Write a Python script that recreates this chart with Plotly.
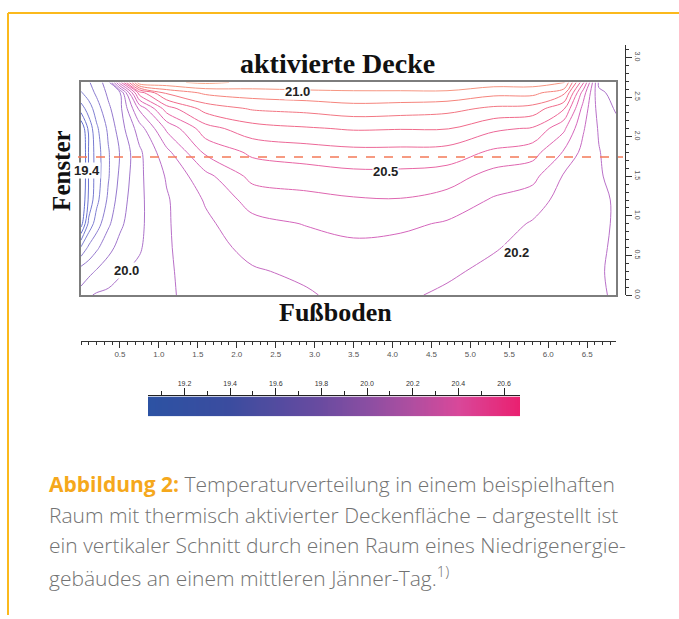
import numpy as np
import plotly.graph_objects as go

# ---------------- data ----------------
# grid positions in the room section (m)
x_pos = [0, 0.1, 0.2, 0.35, 0.5, 0.75, 1.1, 1.6, 2.2, 2.9, 3.5, 4.1, 4.7, 5.3, 5.8, 6.2, 6.45, 6.65, 6.87]
y_pos = [0, 0.3, 0.6, 0.9, 1.2, 1.5, 1.8, 2.1, 2.35, 2.55, 2.68]

# temperature (°C) per grid column, from floor (y=0) up to ceiling (y=2.68)
temp_x000 = [19.93, 19.85, 19.61, 19.25, 19.18, 19.15, 19.15, 19.20, 19.45, 19.59, 19.66]
temp_x010 = [19.99, 19.87, 19.72, 19.53, 19.42, 19.41, 19.41, 19.43, 19.55, 19.65, 19.69]
temp_x020 = [20.01, 19.91, 19.78, 19.65, 19.57, 19.55, 19.55, 19.58, 19.65, 19.72, 19.75]
temp_x035 = [20.02, 19.95, 19.87, 19.78, 19.72, 19.69, 19.69, 19.72, 19.78, 19.82, 19.85]
temp_x050 = [20.03, 19.99, 19.93, 19.88, 19.85, 19.82, 19.805, 19.85, 19.87, 19.89, 20.35]
temp_x075 = [20.02, 20.02, 19.99, 19.98, 19.98, 19.98, 19.98, 20.05, 20.22, 20.55, 21.08]
temp_x110 = [20.09, 20.09, 20.09, 20.09, 20.09, 20.11, 20.17, 20.32, 20.55, 20.82, 21.08]
temp_x160 = [20.13, 20.14, 20.16, 20.18, 20.21, 20.27, 20.42, 20.56, 20.74, 20.92, 21.12]
temp_x220 = [20.17, 20.19, 20.23, 20.27, 20.34, 20.43, 20.52, 20.66, 20.81, 20.95, 21.08]
temp_x290 = [20.19, 20.22, 20.26, 20.305, 20.37, 20.45, 20.55, 20.69, 20.83, 20.97, 21.08]
temp_x350 = [20.23, 20.25, 20.28, 20.33, 20.39, 20.47, 20.57, 20.71, 20.86, 20.98, 21.08]
temp_x410 = [20.22, 20.24, 20.27, 20.32, 20.395, 20.47, 20.57, 20.705, 20.85, 20.98, 21.08]
temp_x470 = [20.18, 20.22, 20.25, 20.29, 20.36, 20.45, 20.56, 20.705, 20.83, 20.98, 21.08]
temp_x530 = [20.15, 20.17, 20.21, 20.25, 20.29, 20.36, 20.48, 20.62, 20.78, 20.93, 21.05]
temp_x580 = [20.13, 20.14, 20.16, 20.19, 20.25, 20.33, 20.44, 20.59, 20.76, 20.93, 21.05]
temp_x620 = [20.12, 20.12, 20.13, 20.14, 20.16, 20.19, 20.29, 20.42, 20.61, 20.83, 21.02]
temp_x645 = [20.11, 20.11, 20.11, 20.12, 20.13, 20.15, 20.17, 20.21, 20.26, 20.35, 20.52]
temp_x665 = [20.11, 20.11, 20.12, 20.12, 20.12, 20.11, 20.105, 20.09, 20.06, 20.02, 19.98]
temp_x687 = [20.09, 20.08, 20.08, 20.09, 20.09, 20.07, 20.05, 20.03, 19.99, 19.97, 19.93]

temp_columns = [temp_x000, temp_x010, temp_x020, temp_x035, temp_x050, temp_x075, temp_x110,
                temp_x160, temp_x220, temp_x290, temp_x350, temp_x410, temp_x470, temp_x530,
                temp_x580, temp_x620, temp_x645, temp_x665, temp_x687]

contour_start, contour_end, contour_step = 19.3, 21.1, 0.1

label_text = ["21.0", "19.4", "20.5", "20.0", "20.2"]
window_line_height = 1.74   # dashed line (m)

ruler_x_ticks = [0.5, 1.0, 1.5, 2.0, 2.5, 3.0, 3.5, 4.0, 4.5, 5.0, 5.5, 6.0, 6.5]
ruler_y_ticks = [0.0, 0.5, 1.0, 1.5, 2.0, 2.5, 3.0]
cbar_ticks = [19.2, 19.4, 19.6, 19.8, 20.0, 20.2, 20.4, 20.6]
cbar_min, cbar_max = 19.04, 20.67

room_width, room_height = 6.87, 2.68

# ---------------- build ----------------
W, H = 679, 619
def px(v):
    return v / W
def py(v):
    return 1 - v / H

z = [list(row) for row in zip(*temp_columns)]

line_scale = [[0.0, '#6470d0'], [0.167, '#8080d2'], [0.333, '#a076cc'], [0.444, '#b870c8'],
              [0.556, '#d466bc'], [0.667, '#e866a4'], [0.778, '#f06a8a'], [0.889, '#f5847c'],
              [1.0, '#f8a888']]

fig = go.Figure()
fig.add_trace(go.Contour(
    x=x_pos, y=y_pos, z=z,
    contours=dict(start=contour_start, end=contour_end, size=contour_step, coloring='lines'),
    colorscale=line_scale, zmin=contour_start, zmax=contour_end,
    line=dict(width=1.0, smoothing=1.0),
    showscale=False, hoverinfo='skip',
    xaxis='x', yaxis='y'))

# ruler subplot (empty trace so axes are drawn)
fig.add_trace(go.Scatter(x=[None], y=[None], xaxis='x2', yaxis='y2', showlegend=False,
                         hoverinfo='skip'))

# colour bar
cb_vals = np.linspace(cbar_min, cbar_max, 200)
cbar_scale = [[0.0, '#2c52a3'], [0.22, '#3b4c9f'], [0.466, '#6a4ba0'], [0.589, '#8a4ea2'],
              [0.712, '#b04ea0'], [0.834, '#d8489a'], [1.0, '#ea2070']]
fig.add_trace(go.Heatmap(x=cb_vals, y=[0], z=[cb_vals], colorscale=cbar_scale,
                         zmin=cbar_min, zmax=cbar_max, showscale=False, hoverinfo='skip',
                         xaxis='x3', yaxis='y3'))

box_line = dict(showline=True, mirror=True, linecolor='#7d7d7d', linewidth=2,
                showgrid=False, zeroline=False, ticks='', showticklabels=False)

fig.update_layout(
    width=W, height=H, margin=dict(l=0, r=0, t=0, b=0),
    paper_bgcolor='white', plot_bgcolor='rgba(0,0,0,0)', showlegend=False,
    xaxis=dict(domain=[px(81), px(616)], range=[0, room_width], anchor='y', **box_line),
    yaxis=dict(domain=[py(297), py(83)], range=[0, room_height], anchor='x', **box_line),
    xaxis2=dict(domain=[px(81), px(616)], range=[0, room_width], anchor='free', position=py(343),
                showline=True, linecolor='#333', linewidth=1, showgrid=False, zeroline=False,
                ticks='outside', ticklen=6, tickcolor='#333', tickwidth=1,
                tickvals=ruler_x_ticks, ticktext=[f"{v:.1f}" for v in ruler_x_ticks],
                tickfont=dict(size=8, color='#555', family='Liberation Sans'),
                minor=dict(dtick=0.1, tick0=0, ticks='outside', ticklen=3, tickcolor='#333')),
    yaxis2=dict(domain=[py(297), py(45)], range=[0, (297 - 45) / 79.7], anchor='free',
                position=px(625), side='right',
                showline=True, linecolor='#333', linewidth=1, showgrid=False, zeroline=False,
                ticks='outside', ticklen=6, tickcolor='#333', tickwidth=1,
                tickvals=ruler_y_ticks, ticktext=[f"{v:.1f}" for v in ruler_y_ticks],
                tickangle=90, tickfont=dict(size=7, color='#555', family='Liberation Sans'),
                minor=dict(dtick=0.1, tick0=0, ticks='outside', ticklen=3, tickcolor='#333')),
    xaxis3=dict(domain=[px(148), px(520)], range=[cbar_min, cbar_max], anchor='y3', side='top',
                showline=True, linecolor='#222', linewidth=1, showgrid=False, zeroline=False,
                ticks='outside', ticklen=7, tickcolor='#222',
                tickvals=cbar_ticks, ticktext=[f"{v:.1f}" for v in cbar_ticks],
                tickfont=dict(size=7, color='#333', family='Liberation Sans'),
                minor=dict(dtick=0.1, tick0=19.2, ticks='outside', ticklen=4, tickcolor='#222')),
    yaxis3=dict(domain=[py(419), py(399)], range=[-0.5, 0.5], anchor='x3', visible=False),
)

# dashed line
fig.add_shape(type='line', xref='paper', yref='y', x0=px(60), x1=px(623),
              y0=window_line_height, y1=window_line_height,
              line=dict(color='#f47a58', width=1.6, dash='dash'))

# contour labels (data coordinates)
label_x = [2.78, 0.08, 3.91, 0.58, 5.59]
label_y = [2.56, 1.57, 1.56, 0.31, 0.54]
for t, lx, ly in zip(label_text, label_x, label_y):
    fig.add_annotation(x=lx, y=ly, xref='x', yref='y', text=f"<b>{t}</b>", showarrow=False,
                       xanchor='center', yanchor='middle',
                       font=dict(family='Liberation Sans', size=13, color='#222'),
                       bgcolor='white', borderpad=0)

serif = dict(family='Liberation Serif', color='#111')
fig.add_annotation(x=px(337), y=py(64), xref='paper', yref='paper', showarrow=False,
                   xanchor='center', yanchor='middle',
                   text='<b>aktivierte Decke</b>', font=dict(size=28, **serif))
fig.add_annotation(x=px(335), y=py(315), xref='paper', yref='paper', showarrow=False,
                   xanchor='center', yanchor='middle',
                   text='<b>Fußboden</b>', font=dict(size=26, **serif))
fig.add_annotation(x=px(62), y=py(172), xref='paper', yref='paper', showarrow=False,
                   xanchor='center', yanchor='middle',
                   text='<b>Fenster</b>', textangle=-90, font=dict(size=25, **serif))

# caption
caption_lines = [
    "<span style='color:#f5a81c'><b>Abbildung 2:</b></span> Temperaturverteilung in einem beispielhaften",
    "Raum mit thermisch aktivierter Deckenfläche – dargestellt ist",
    "ein vertikaler Schnitt durch einen Raum eines Niedrigenergie-",
    "gebäudes an einem mittleren Jänner-Tag.<sup>1)</sup>",
]
for i, line in enumerate(caption_lines):
    fig.add_annotation(x=px(47), y=py(487 + 31 * i), xref='paper', yref='paper',
                       xanchor='left', yanchor='middle', showarrow=False, text=line,
                       font=dict(family='Open Sans', size=21, color='#727272', weight=300))

# orange frame
frame = dict(color='#fbb91c', width=2)
fig.add_shape(type='line', xref='paper', yref='paper', x0=px(8), x1=1.0, y0=py(13), y1=py(13), line=frame)
fig.add_shape(type='line', xref='paper', yref='paper', x0=px(8), x1=px(8), y0=py(13), y1=0, line=frame)

fig.write_html("out.html", config={'displayModeBar': False},
               post_script="document.body.style.margin='0';")
